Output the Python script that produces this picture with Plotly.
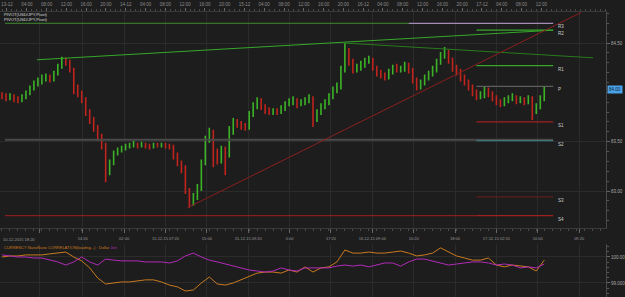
import plotly.graph_objects as go

# ---------------- data ----------------
closes = [83.96,83.94,83.96,83.93,83.92,83.95,83.99,84.04,84.09,84.11,
          84.14,84.15,84.13,84.19,84.26,84.32,84.30,84.23,84.02,83.99,
          83.93,83.80,83.72,83.64,83.55,83.47,83.19,83.29,83.38,83.41,
          83.43,83.45,83.46,83.47,83.46,83.48,83.46,83.45,83.47,83.46,
          83.47,83.46,83.46,83.36,83.29,83.24,83.01,82.88,82.94,83.03,
          83.29,83.52,83.60,83.40,83.31,83.42,83.37,83.60,83.70,83.68,
          83.66,83.65,83.78,83.86,83.91,83.86,83.82,83.80,83.81,83.80,
          83.84,83.88,83.90,83.92,83.88,83.90,83.92,83.94,83.74,83.80,
          83.86,83.90,83.96,84.02,84.06,84.23,84.43,84.31,84.23,84.25,
          84.28,84.32,84.33,84.25,84.20,84.17,84.16,84.21,84.25,84.23,
          84.24,84.27,84.23,84.13,84.06,84.10,84.15,84.19,84.23,84.31,
          84.37,84.41,84.33,84.25,84.21,84.15,84.11,84.06,84.00,83.96,
          83.97,84.03,83.99,83.95,83.91,83.89,83.92,83.94,83.95,83.92,
          83.93,83.91,83.94,83.82,83.86,83.94,84.03]
highs = [84.00,83.99,83.99,83.98,83.96,83.98,84.02,84.07,84.12,84.15,
         84.18,84.19,84.18,84.22,84.29,84.36,84.35,84.33,84.25,84.08,
         84.02,83.95,83.83,83.75,83.67,83.58,83.49,83.32,83.41,83.44,
         83.46,83.48,83.49,83.51,83.49,83.50,83.49,83.48,83.49,83.49,
         83.49,83.49,83.48,83.47,83.39,83.31,83.26,83.03,82.98,83.07,
         83.32,83.56,83.64,83.62,83.43,83.46,83.45,83.66,83.74,83.73,
         83.71,83.69,83.81,83.90,83.95,83.94,83.88,83.85,83.84,83.84,
         83.87,83.91,83.94,83.96,83.94,83.93,83.95,83.98,83.96,83.83,
         83.89,83.93,83.99,84.06,84.10,84.27,84.50,84.45,84.34,84.29,
         84.32,84.35,84.37,84.35,84.27,84.23,84.20,84.24,84.28,84.29,
         84.27,84.31,84.30,84.25,84.15,84.13,84.18,84.22,84.27,84.34,
         84.41,84.46,84.43,84.35,84.28,84.24,84.18,84.13,84.08,84.03,
         84.01,84.06,84.05,84.01,83.97,83.93,83.95,83.97,83.99,83.97,
         83.96,83.95,83.97,83.96,83.89,83.97,84.06]
lows = [83.93,83.91,83.92,83.90,83.89,83.90,83.93,83.97,84.02,84.06,
        84.08,84.11,84.10,84.11,84.17,84.24,84.27,84.20,83.98,83.95,
        83.89,83.76,83.68,83.60,83.51,83.42,83.09,83.16,83.26,83.36,
        83.39,83.41,83.43,83.44,83.43,83.44,83.43,83.42,83.43,83.44,
        83.44,83.43,83.42,83.32,83.25,83.18,82.97,82.83,82.85,82.91,
        83.00,83.26,83.49,83.24,83.27,83.28,83.16,83.34,83.57,83.64,
        83.62,83.61,83.62,83.75,83.83,83.82,83.78,83.77,83.77,83.77,
        83.78,83.81,83.86,83.87,83.84,83.86,83.87,83.89,83.65,83.70,
        83.77,83.83,83.87,83.93,83.99,84.03,84.20,84.27,84.19,84.20,
        84.22,84.25,84.29,84.22,84.16,84.14,84.12,84.13,84.18,84.20,
        84.20,84.21,84.19,84.09,84.02,84.03,84.07,84.12,84.16,84.20,
        84.28,84.34,84.29,84.21,84.17,84.11,84.07,84.02,83.96,83.92,
        83.93,83.94,83.95,83.91,83.87,83.85,83.86,83.89,83.91,83.88,
        83.89,83.87,83.88,83.72,83.78,83.83,83.91]
first_open = 83.98
opens = [first_open] + closes[:-1]
bars = list(range(len(closes)))

pivot_names = ["R3", "R2", "R1", "P", "S1", "S2", "S3", "S4"]
pivot_levels = [84.70, 84.63, 84.27, 84.06, 83.70, 83.51, 82.94, 82.75]
support_line_level = 83.52

trend_up_x = [8.75, 138.25]
trend_up_y = [84.33, 84.63]
trend_dn_x = [85.75, 148.25]
trend_dn_y = [84.50, 84.35]
trend_red_x = [46.5, 145.25]
trend_red_y = [82.83, 84.81]

dollar = [100.00,100.04,100.04,100.08,100.08,100.08,100.12,100.15,100.19,100.00,
          99.85,99.58,99.19,98.96,99.00,99.04,99.04,99.08,99.12,99.12,
          99.04,98.92,98.85,98.69,98.73,99.00,99.23,98.96,98.92,99.00,
          99.12,99.27,99.38,99.42,99.42,99.38,99.50,99.42,99.62,99.42,
          99.58,99.62,99.81,100.27,100.15,100.15,100.19,100.15,100.15,100.19,
          100.23,100.15,100.04,100.08,100.15,100.35,100.19,100.04,99.96,99.88,
          99.88,99.96,99.69,99.62,99.69,99.65,99.62,99.46,99.88]
yen = [100.08,100.04,100.00,100.00,99.96,99.96,99.88,99.81,99.69,99.81,
       100.00,99.81,99.69,99.92,99.88,99.85,99.85,99.85,99.81,99.81,
       99.81,99.77,99.85,100.04,100.15,100.00,99.88,99.81,99.73,99.65,
       99.58,99.50,99.46,99.42,99.46,99.58,99.50,99.46,99.58,99.58,
       99.58,99.58,99.65,99.69,99.65,99.69,99.62,99.69,99.77,99.77,
       99.65,99.81,99.92,99.92,99.85,99.77,99.69,99.73,99.77,99.81,
       99.81,99.77,99.69,99.73,99.69,99.58,99.62,99.58,99.73]
corr_bars = list(range(0, len(closes), 2))

bottom_tick_labels = ["", "14:20", "02:00", "15-12-15 07:20", "15:00", "15-12-15 09:20",
                      "0:00", "17:20", "16-12-15 09:00", "10:20", "18:00",
                      "17-12-15 02:20", "10:00", "09:20"]
first_bottom_label = "10-12-2015 18:20"
top_tick_labels = []
for d in ["13-12", "14-12", "15-12", "16-12", "17-12"]:
    top_tick_labels += [d, "04:00", "08:00", "12:00", "16:00", "20:00"]
top_tick_labels = top_tick_labels[:28]

price_ticks = [84.5, 83.5, 83.0]
price_tick_text = ["84.50", "83.50", "83.00"]
last_price_text = "84.00"

# ---------------- styles ----------------
BG = "#1d1d1d"
GRID = "#2b2b2b"
GREEN = "#36a82a"
RED = "#a11f1f"
FONT = "Liberation Sans"
W, H = 625, 297
X_RIGHT = 608

pivot_colors = ["#a48cb6", GREEN, GREEN, "#5e5e5e", RED, "#3e7475", "#5e1c1c", RED]

fig = go.Figure()

def seg(x0, x1, y, color, width=1, yaxis="y"):
    fig.add_trace(go.Scatter(x=[x0, x1], y=[y, y], mode="lines",
                             line=dict(color=color, width=width),
                             hoverinfo="skip", yaxis=yaxis))

# full width lines
seg(0.75, 102, pivot_levels[0], "#3f8a2e")
seg(0.75, 138.25, support_line_level, "#4a4a4a", 2)
seg(0.75, 119, pivot_levels[7], RED)
# pivot segments
for nm, lv, col in zip(pivot_names, pivot_levels, pivot_colors):
    start = 102 if nm == "R3" else 119
    seg(start, 138.25, lv, col, 1.2)

# trend lines
fig.add_trace(go.Scatter(x=trend_up_x, y=trend_up_y, mode="lines",
                         line=dict(color=GREEN, width=1), hoverinfo="skip"))
fig.add_trace(go.Scatter(x=trend_dn_x, y=trend_dn_y, mode="lines",
                         line=dict(color="#2a7a1e", width=1), hoverinfo="skip"))

fig.add_trace(go.Ohlc(
    x=bars, open=opens, high=highs, low=lows, close=closes,
    increasing=dict(line=dict(color="#3cb327", width=1.6)),
    decreasing=dict(line=dict(color="#c0241c", width=1.6)),
    tickwidth=0.12, hoverinfo="skip"))

fig.add_trace(go.Scatter(x=trend_red_x, y=trend_red_y, mode="lines",
                         line=dict(color="#8a1f1f", width=1), hoverinfo="skip"))

# correlation panel
fig.add_trace(go.Scatter(x=corr_bars, y=dollar, mode="lines", yaxis="y2",
                         line=dict(color="#c87a1e", width=1), hoverinfo="skip"))
fig.add_trace(go.Scatter(x=corr_bars, y=yen, mode="lines", yaxis="y2",
                         line=dict(color="#b22ab8", width=1), hoverinfo="skip"))

# invisible trace for the top time strip axis
fig.add_trace(go.Scatter(x=[0, X_RIGHT], y=[83.5, 83.5], xaxis="x2", mode="lines",
                         line=dict(width=0), opacity=0, hoverinfo="skip"))

def px_to_bar(p):
    return p / 4.0 - 0.5

bottom_tick_px = [40, 83, 124.5, 166, 207.5, 249, 290.5, 332, 373.5, 415, 456.5, 498, 539.5, 581]
top_step = (543 - 7) / 27.0
top_tick_px = [7 + top_step * k for k in range(28)]

y_top_px, y_bot_px = 12, 228
def price_at(py):
    return 84.936 - 0.010135 * py

fig.update_layout(
    width=W, height=H, margin=dict(l=0, r=0, t=0, b=0),
    paper_bgcolor=BG, plot_bgcolor=BG, showlegend=False,
    font=dict(family=FONT, size=4, color="#a0a0a0"),
    xaxis=dict(domain=[0, X_RIGHT / W], range=[-0.5, 151.5], anchor="y",
               rangeslider=dict(visible=False), showgrid=True, gridcolor=GRID,
               tickmode="array", tickvals=[px_to_bar(p) for p in bottom_tick_px],
               ticktext=bottom_tick_labels, ticks="outside", ticklen=4,
               tickcolor="#666", ticklabelstandoff=2,
               tickfont=dict(size=4, color="#9a9a9a", family=FONT),
               showline=True, linecolor="#3a3a3a", zeroline=False,
               minor=dict(dtick=2, tick0=0, ticklen=2, tickcolor="#4a4a4a",
                          ticks="outside", showgrid=False)),
    xaxis2=dict(overlaying="x", side="top", anchor="y", range=[0, X_RIGHT],
                tickmode="array", tickvals=top_tick_px, ticktext=top_tick_labels,
                ticks="outside", ticklen=3, tickcolor="#666", showgrid=False,
                tickfont=dict(size=4.5, color="#8a8a8a", family=FONT),
                showline=True, linecolor="#3a3a3a", zeroline=False,
                minor=dict(dtick=top_step / 4, tick0=7, ticklen=2,
                           tickcolor="#4a4a4a", ticks="outside", showgrid=False)),
    yaxis=dict(domain=[1 - y_bot_px / H, 1 - y_top_px / H],
               range=[price_at(y_bot_px), price_at(y_top_px)],
               side="right", anchor="x", showgrid=True, gridcolor=GRID,
               tickmode="array", tickvals=price_ticks, ticktext=price_tick_text,
               ticks="outside", ticklen=3, tickcolor="#666",
               tickfont=dict(size=4.5, color="#a8a8a8", family=FONT),
               showline=True, linecolor="#4a4a4a", zeroline=False,
               minor=dict(dtick=0.1, tick0=0, ticklen=2, tickcolor="#555",
                          ticks="outside", showgrid=False)),
    yaxis2=dict(domain=[0, 1 - 244 / H], range=[98.46, 100.5],
                side="right", anchor="x", showgrid=True, gridcolor=GRID,
                tickmode="array", tickvals=[100, 99], ticktext=["100.00", "99.000"],
                ticks="outside", ticklen=3, tickcolor="#666",
                tickfont=dict(size=4.5, color="#a8a8a8", family=FONT),
                showline=True, linecolor="#4a4a4a", zeroline=False,
                minor=dict(dtick=0.2, tick0=0, ticklen=2, tickcolor="#555",
                           ticks="outside", showgrid=False)),
)

ann = []
for t, yp in [("PIVOT(USD/JPY,Pivot)", 14), ("PIVOT(USD/JPY,Pivot)", 19)]:
    ann.append(dict(text=t, x=0.004, y=1 - yp / H, xref="paper", yref="paper",
                    xanchor="left", yanchor="middle", showarrow=False,
                    font=dict(size=4.2, color="#d8d8d8", family=FONT)))
for nm, lv in zip(pivot_names, pivot_levels):
    ann.append(dict(text=nm, x=139, y=lv, xref="x", yref="y", xanchor="left",
                    yanchor="top", yshift=1, showarrow=False,
                    font=dict(size=4.5, color="#d0d0d0", family=FONT)))
ann.append(dict(text=first_bottom_label, x=0.002, y=1 - 239 / H, xref="paper",
                yref="paper", xanchor="left", yanchor="middle", showarrow=False,
                font=dict(size=4, color="#9a9a9a", family=FONT)))
ann.append(dict(text="<span style='color:#c87a1e'>CURRENCY NanoNano CORRELATION(loading...) : Dollar</span>"
                     " <span style='color:#b22ab8'>Jen</span>",
                x=0.004, y=1 - 247 / H, xref="paper", yref="paper", xanchor="left",
                yanchor="middle", showarrow=False, font=dict(size=4, family=FONT)))
ann.append(dict(text=last_price_text, x=(X_RIGHT + 1) / W, y=closes[-1], xref="paper",
                yref="y", xanchor="left", yanchor="middle", showarrow=False,
                bgcolor="#4aa3e8", borderpad=1,
                font=dict(size=4.5, color="#102030", family=FONT)))
fig.update_layout(annotations=ann)

fig.write_html("out.html")
